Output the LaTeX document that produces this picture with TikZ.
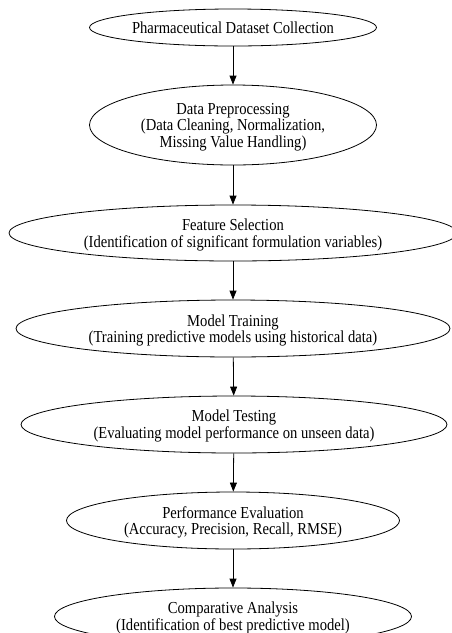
\documentclass[tikz,border=0pt]{standalone}
\usepackage{fontspec}
\usepackage{graphicx}
\setmainfont{Liberation Serif}
\usetikzlibrary{shapes.geometric,arrows.meta}
\newcommand{\stagetext}[1]{\scalebox{1}[1.15]{\begin{tabular}{@{}c@{}}#1\end{tabular}}}
\tikzset{
  stage/.style={ellipse, draw=black, line width=0.8pt, inner sep=0pt},
  stagelabel/.style={inner sep=0pt, font=\fontsize{14.6}{14.4}\selectfont},
  flow/.style={-{Triangle[length=9pt,width=7pt]}, line width=0.8pt}
}
\begin{document}
\begin{tikzpicture}[x=1pt,y=-1pt]
\useasboundingbox (0,0) rectangle (452,633);
\clip (0,0) rectangle (452,633);
\node[stage, minimum width=287pt, minimum height=37pt] (n1) at (233,27.5) {};
\node[stage, minimum width=287pt, minimum height=80pt] (n2) at (233,125) {};
\node[stage, minimum width=448pt, minimum height=56pt] (n3) at (233,233) {};
\node[stage, minimum width=434pt, minimum height=57pt] (n4) at (233,328.5) {};
\node[stage, minimum width=426pt, minimum height=57pt] (n5) at (234,424.5) {};
\node[stage, minimum width=333pt, minimum height=57pt] (n6) at (233,520.5) {};
\node[stage, minimum width=357pt, minimum height=57pt] (n7) at (233,616.5) {};
\node[stagelabel] (t1) at ([yshift=-2.5pt]n1.center) {\stagetext{Pharmaceutical Dataset Collection}};
\node[stagelabel] (t2) at ([yshift=-2.5pt]n2.center) {\stagetext{Data Preprocessing\\(Data Cleaning, Normalization,\\Missing Value Handling)}};
\node[stagelabel] (t3) at ([yshift=-2.5pt]n3.center) {\stagetext{Feature Selection\\(Identification of significant formulation variables)}};
\node[stagelabel] (t4) at ([yshift=-2.5pt]n4.center) {\stagetext{Model Training\\(Training predictive models using historical data)}};
\node[stagelabel] (t5) at ([yshift=-2.5pt]n5.center) {\stagetext{Model Testing\\(Evaluating model performance on unseen data)}};
\node[stagelabel] (t6) at ([yshift=-2.5pt]n6.center) {\stagetext{Performance Evaluation\\(Accuracy, Precision, Recall, RMSE)}};
\node[stagelabel] (t7) at ([yshift=-2.5pt]n7.center) {\stagetext{Comparative Analysis\\(Identification of best predictive model)}};
\draw[flow] (n1) -- (n2);
\draw[flow] (n2) -- (n3);
\draw[flow] (n3) -- (n4);
\draw[flow] (n4) -- (n5);
\draw[flow] (n5) -- (n6);
\draw[flow] (n6) -- (n7);
\end{tikzpicture}
\end{document}
